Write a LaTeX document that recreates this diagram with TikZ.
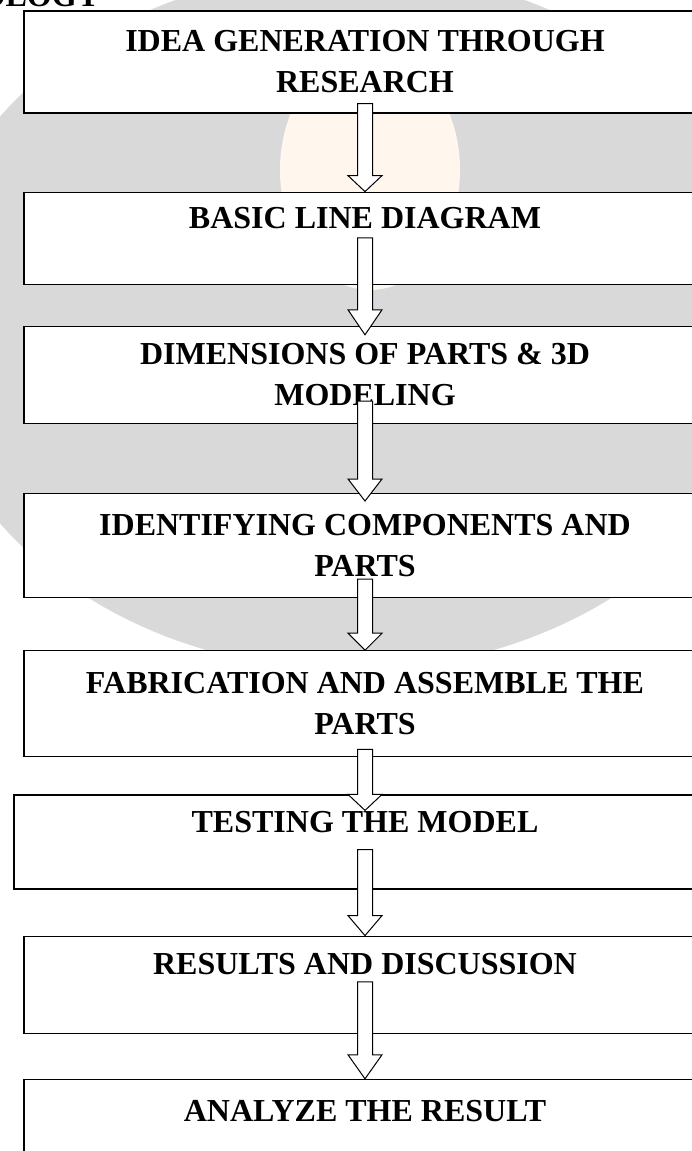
\documentclass[tikz,border=0pt]{standalone}
\usepackage{fontspec}
\setmainfont{Liberation Serif}
\usepackage{tikz}
\usetikzlibrary{positioning}
\usetikzlibrary{calc}
\tikzset{stage node/.style={rectangle,draw,fill=white,line width=1.2pt,minimum width=682pt,inner sep=0pt,align=center,font=\bfseries\fontsize{32}{41}\selectfont},}
\tikzset{block arrow/.style={draw,fill=white,line width=1pt,line join=miter},}

\begin{document}
\begin{tikzpicture}[x=1pt, y=1pt]
	\useasboundingbox (0,0) rectangle (692,-1151);
	\clip (0,0) rectangle (692,-1151);

	% faint logo behind the chart
	\fill[white] (0,0) rectangle (692,-1151);
	\fill[black!15] (350,-320) ellipse (430 and 350);
	\fill[orange!7] (370,-170) ellipse (90 and 120);

	\node[anchor=base east, inner sep=0pt, font=\bfseries\fontsize{32}{41}\selectfont] (head) at (100,-6) {METHODOLOGY};

	\node[stage node, minimum height=102pt] (b1) at (365,-62) {IDEA GENERATION THROUGH\\RESEARCH};
	\node[stage node, minimum height=92pt] (b2) [below = 78pt of b1] {BASIC LINE DIAGRAM\\\mbox{}};
	\node[stage node, minimum height=97pt] (b3) [below = 41pt of b2] {DIMENSIONS OF PARTS \& 3D\\MODELING};
	\node[stage node, minimum height=104pt] (b4) [below = 69pt of b3] {IDENTIFYING COMPONENTS AND\\PARTS};
	\node[stage node, minimum height=106pt] (b5) [below = 52pt of b4] {FABRICATION AND ASSEMBLE THE\\PARTS};
	\node[stage node, minimum height=94pt, minimum width=702pt] (b6) [below = 37pt of b5] {TESTING THE MODEL\\\mbox{}};
	\node[stage node, minimum height=97pt] (b7) [below = 46pt of b6] {RESULTS AND DISCUSSION\\\mbox{}};
	\node[stage node, minimum height=104pt] (b8) [below = 45pt of b7] {ANALYZE THE RESULT\\\mbox{}};

	% hollow arrows: start inside the upper box, tip at (or just past) the top of the next one
	\foreach \from/\to/\up/\dn/\hl in {b1/b2/10/0/16, b2/b3/47/9/25, b3/b4/23/8/22, b4/b5/19/0/17, b5/b6/8/16/16, b6/b7/40/0/20, b7/b8/52/0/24}
	    \draw[block arrow] ($(\from.south)+(-7.5,\up)$) -- ($(\to.north)+(-7.5,\hl-\dn)$) -- ++(-9.5,0) -- ($(\to.north)+(0,-\dn)$) -- ++(17,\hl) -- ++(-9.5,0) -- ($(\from.south)+(7.5,\up)$) -- cycle;
\end{tikzpicture}
\end{document}
